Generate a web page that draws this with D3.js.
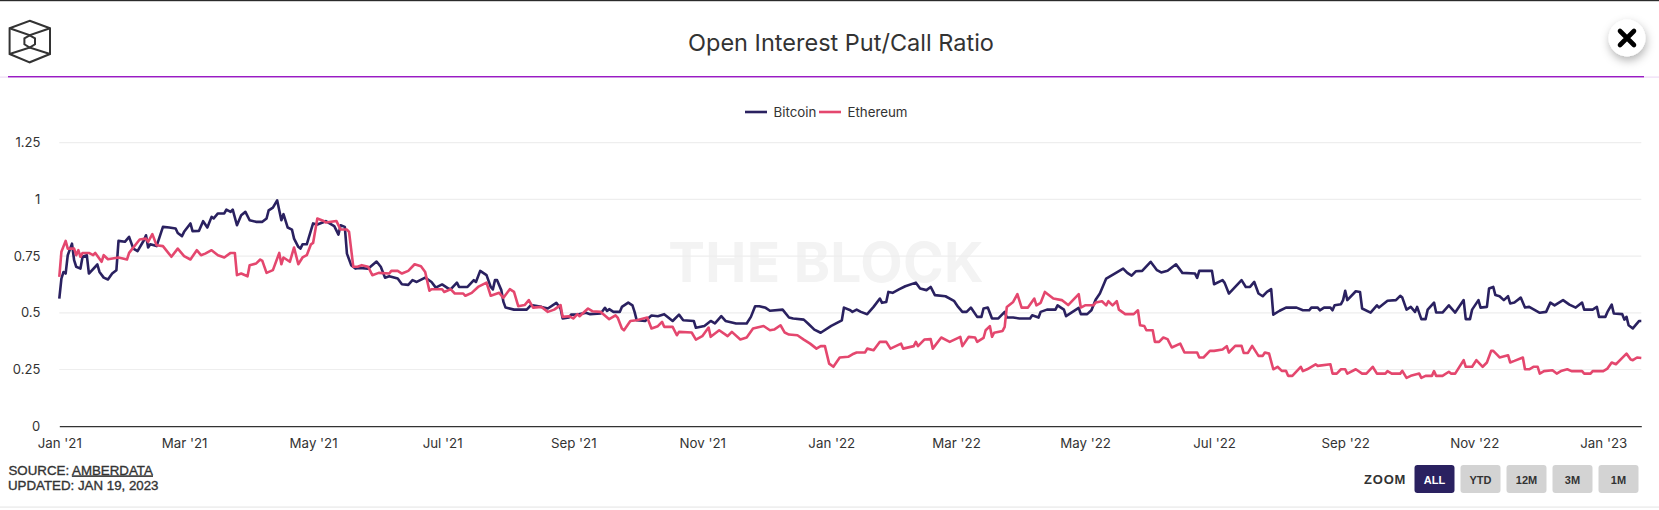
<!DOCTYPE html>
<html>
<head>
<meta charset="utf-8">
<title>Open Interest Put/Call Ratio</title>
<script src="https://cdn.jsdelivr.net/npm/d3@7"></script>
<style>
  html, body { margin: 0; padding: 0; background: #fff; overflow: hidden; }
  text { font-family: Inter, "Noto Sans", sans-serif; }
  .plain text, text.plain { font-family: "Liberation Sans", Arial, sans-serif; }
</style>
</head>
<body>
<svg id="chart" width="1659" height="510"></svg>
<script>
// days counted from Jan 1 2021
const startDate = Date.UTC(2021, 0, 1);

const btcDays = [0,1,2,3,4,6,7,8,10,11,13,14,18,19,21,23,25,27,28,31,33,35,37,40,41,42,43,46,49,52,55,56,58,59,62,63,66,68,70,72,73,75,78,79,81,82,84,86,88,90,93,96,98,99,101,103,105,106,108,110,111,113,114,115,117,120,122,126,130,132,133,135,136,138,140,142,146,150,152,154,156,160,162,165,167,169,173,176,178,181,184,185,188,189,193,196,197,199,202,204,205,206,207,209,210,211,215,221,223,228,231,235,237,238,241,242,245,249,251,256,258,259,260,262,265,266,269,271,272,273,277,280,283,286,290,293,295,300,301,305,308,310,313,315,320,325,327,329,331,334,336,342,345,347,352,354,357,360,365,370,371,374,375,377,379,382,385,388,389,391,392,394,397,400,405,407,410,412,414,419,423,425,427,429,431,434,436,437,439,441,444,447,448,451,454,459,460,463,464,467,471,472,475,476,482,483,486,488,490,492,495,503,505,507,509,512,516,519,521,524,528,531,537,538,539,541,545,546,550,551,553,559,561,563,565,567,569,571,573,574,577,580,585,588,591,592,595,596,598,601,602,603,606,607,608,609,613,615,616,620,623,624,628,632,634,635,637,639,641,642,644,646,647,650,651,654,657,660,664,665,667,668,671,672,675,676,678,679,681,683,685,686,688,691,693,695,700,703,705,707,711,714,717,720,721,725,727,728,731,732,734,735,739,740,741,742,744,747,748];
const btcValues = [.563,.651,.68,.673,.754,.805,.732,.703,.695,.747,.754,.673,.713,.68,.655,.647,.673,.688,.817,.813,.835,.783,.772,.82,.842,.788,.802,.794,.879,.876,.872,.852,.838,.857,.894,.86,.861,.904,.876,.923,.916,.938,.938,.955,.945,.955,.886,.93,.945,.908,.901,.901,.916,.952,.964,.996,.908,.935,.876,.867,.827,.791,.783,.802,.802,.894,.889,.904,.882,.845,.886,.879,.761,.71,.695,.698,.694,.726,.703,.655,.661,.651,.626,.623,.644,.636,.655,.636,.611,.625,.607,.603,.633,.614,.614,.644,.636,.685,.666,.614,.603,.644,.644,.6,.548,.523,.514,.514,.534,.526,.519,.544,.519,.475,.479,.492,.492,.5,.494,.497,.522,.508,.516,.504,.504,.526,.545,.533,.504,.467,.464,.488,.485,.494,.464,.492,.467,.464,.434,.442,.464,.453,.485,.464,.453,.453,.482,.529,.529,.522,.509,.514,.479,.475,.47,.453,.426,.412,.442,.467,.523,.511,.504,.514,.504,.494,.526,.563,.544,.548,.592,.588,.603,.617,.633,.607,.6,.614,.578,.573,.553,.526,.504,.504,.523,.482,.482,.519,.523,.475,.475,.504,.479,.479,.475,.475,.489,.479,.504,.514,.514,.533,.514,.485,.522,.494,.494,.511,.558,.585,.651,.695,.676,.664,.683,.685,.725,.688,.678,.685,.714,.676,.673,.654,.685,.685,.685,.626,.644,.632,.585,.644,.614,.614,.636,.585,.573,.592,.604,.492,.509,.523,.523,.511,.511,.523,.523,.511,.523,.523,.511,.533,.538,.556,.597,.556,.595,.592,.519,.501,.533,.523,.553,.556,.575,.567,.514,.526,.504,.526,.472,.472,.514,.545,.501,.501,.533,.501,.556,.472,.472,.514,.556,.523,.526,.607,.614,.578,.573,.556,.573,.541,.545,.567,.523,.526,.5,.504,.545,.533,.556,.536,.523,.545,.514,.514,.526,.482,.482,.504,.536,.497,.494,.47,.482,.445,.431,.464,.464];

const ethDays = [0,1,3,4,7,8,9,10,11,14,16,17,20,21,23,28,32,33,38,41,42,44,46,49,53,56,59,62,65,67,69,72,75,78,81,83,84,86,89,90,93,95,96,98,101,104,105,106,109,111,113,115,117,119,120,122,125,126,131,133,136,137,139,141,143,146,148,151,156,157,160,162,165,168,171,173,175,176,181,182,185,187,191,192,195,198,202,204,208,210,213,215,217,220,222,224,228,231,234,237,238,241,243,245,246,250,252,256,260,263,264,266,267,270,273,278,280,283,285,286,290,292,293,299,301,304,307,308,312,316,318,322,325,328,333,336,338,341,343,345,349,352,355,358,360,362,364,366,369,373,375,377,381,382,385,388,391,393,398,399,404,405,406,409,412,413,417,421,426,427,430,433,434,437,438,440,441,442,446,447,448,451,453,455,458,461,462,464,466,470,474,477,482,483,485,489,490,493,495,496,498,500,501,504,508,510,511,513,514,517,518,520,522,524,526,530,532,538,539,541,544,546,550,552,553,556,559,560,562,564,567,569,570,572,574,576,578,580,581,583,587,588,590,594,595,601,602,604,606,608,609,613,616,618,621,623,627,628,630,634,635,637,639,643,644,646,649,650,651,654,657,658,660,664,665,668,670,673,675,677,678,680,681,685,686,688,692,693,695,697,699,700,702,706,708,710,713,715,720,721,724,725,730,732,734,736,739,741,743,744,746,748];
const ethValues = [.658,.769,.817,.783,.783,.754,.776,.747,.764,.764,.754,.764,.725,.754,.736,.744,.735,.764,.823,.827,.813,.847,.798,.794,.747,.783,.75,.735,.776,.754,.761,.776,.754,.744,.764,.764,.666,.673,.661,.71,.717,.735,.729,.676,.688,.764,.714,.744,.725,.788,.714,.744,.754,.802,.808,.916,.905,.898,.905,.867,.867,.857,.703,.703,.71,.703,.666,.676,.673,.685,.685,.673,.685,.714,.705,.68,.597,.604,.604,.592,.604,.585,.585,.575,.588,.614,.633,.575,.588,.566,.604,.592,.529,.534,.556,.523,.526,.504,.514,.534,.482,.485,.475,.494,.485,.519,.507,.504,.472,.489,.479,.431,.423,.464,.467,.479,.431,.441,.46,.438,.438,.401,.416,.413,.382,.397,.435,.394,.423,.397,.416,.382,.391,.431,.442,.423,.426,.445,.413,.404,.401,.382,.364,.342,.353,.353,.276,.262,.303,.306,.317,.325,.325,.342,.335,.372,.372,.342,.364,.342,.353,.372,.353,.382,.384,.342,.391,.372,.394,.353,.394,.391,.372,.389,.423,.441,.394,.412,.42,.438,.526,.548,.582,.523,.523,.563,.533,.544,.592,.563,.556,.534,.582,.523,.533,.533,.545,.551,.533,.551,.533,.551,.514,.494,.494,.511,.445,.442,.423,.423,.372,.372,.391,.384,.347,.364,.325,.325,.303,.303,.332,.332,.338,.353,.325,.354,.354,.323,.323,.354,.31,.31,.325,.32,.251,.262,.244,.244,.222,.222,.262,.243,.251,.273,.266,.273,.232,.232,.251,.251,.232,.251,.232,.232,.262,.232,.232,.243,.232,.232,.244,.213,.222,.232,.213,.222,.222,.243,.222,.222,.24,.232,.232,.291,.262,.262,.291,.262,.281,.332,.332,.313,.303,.313,.281,.288,.303,.251,.251,.262,.262,.232,.243,.247,.232,.243,.251,.243,.243,.232,.232,.243,.243,.254,.281,.273,.301,.32,.294,.291,.303,.301];

const yTicks = [0, 0.25, 0.5, 0.75, 1, 1.25];
const zoomLabels = ["ALL", "YTD", "12M", "3M", "1M"];

const toDate = d => new Date(startDate + d * 86400000);
const btcData = btcDays.map((d, i) => [toDate(d), btcValues[i]]);
const ethData = ethDays.map((d, i) => [toDate(d), ethValues[i]]);

const navy = "#2a2160", pink = "#e4476e";

const svg = d3.select("#chart");

const defs = svg.append("defs");
const shadow = defs.append("filter").attr("id", "btnShadow")
    .attr("x", "-50%").attr("y", "-50%").attr("width", "200%").attr("height", "200%");
shadow.append("feDropShadow").attr("dx", 1).attr("dy", 4).attr("stdDeviation", 5)
    .attr("flood-color", "#000").attr("flood-opacity", 0.3);

// header
svg.append("rect").attr("width", 1659).attr("height", 1.2).attr("fill", "#2b2b2b");
svg.append("rect").attr("y", 76.5).attr("width", 1659).attr("height", 1.2).attr("fill", "#eedcf5");
svg.append("rect").attr("x", 8).attr("y", 76).attr("width", 1636).attr("height", 1.4).attr("fill", "#9a1cc4");

const logo = svg.append("g").attr("fill", "none").attr("stroke", "#333").attr("stroke-width", 2);
logo.append("path").attr("d", "M29.7,20.7L50,28.3V54L29.7,62.3L9.6,54V28.3Z");
logo.append("path").attr("d", "M29.7,35.3L35,38.3V44.3L29.7,47.5L24.4,44.3V38.3Z");
logo.append("path").attr("d", "M9.6,28.3L29.7,35.3L50,28.3M9.6,54L29.7,47.5L50,54");

svg.append("text").attr("x", 841).attr("y", 51).attr("text-anchor", "middle")
    .attr("font-size", 23.5).attr("fill", "#333").text("Open Interest Put/Call Ratio");

svg.append("circle").attr("cx", 1627).attr("cy", 38).attr("r", 18.5)
    .attr("fill", "#fff").attr("filter", "url(#btnShadow)");
svg.append("path").attr("d", "M1620,31L1634,45M1634,31L1620,45")
    .attr("stroke", "#000").attr("stroke-width", 4.6).attr("stroke-linecap", "round");

// legend
const legendItems = [
    { name: "Bitcoin", color: navy, x: 745 },
    { name: "Ethereum", color: pink, x: 819 }
];
const legend = svg.append("g").selectAll("g").data(legendItems).enter().append("g")
    .attr("transform", d => `translate(${d.x},112)`);
legend.append("line").attr("x2", 22).attr("stroke", d => d.color).attr("stroke-width", 2.6);
legend.append("text").attr("x", 28.5).attr("dy", "0.35em").attr("font-size", 13.3)
    .attr("fill", "#333").text(d => d.name);

// scales
const x = d3.scaleUtc().domain([toDate(0), toDate(748)]).range([59.3, 1641.3]);
const y = d3.scaleLinear().domain([0, 1.25]).range([426.2, 142.7]);

// watermark
svg.append("text").attr("x", 826).attr("y", 282).attr("text-anchor", "middle")
    .attr("font-size", 55).attr("font-weight", 700).attr("letter-spacing", 0.3)
    .attr("fill", "#f3f3f3").text("THE BLOCK");

// grid and axes
svg.append("g").selectAll("line").data(yTicks.filter(d => d > 0)).enter().append("line")
    .attr("x1", x.range()[0]).attr("x2", x.range()[1])
    .attr("y1", d => y(d)).attr("y2", d => y(d))
    .attr("stroke", "#eeeeee").attr("stroke-width", 1.2);

const yAxis = svg.append("g").attr("transform", "translate(59.3,0)")
    .call(d3.axisLeft(y).tickValues(yTicks).tickSize(0).tickPadding(19).tickFormat(d => d));
yAxis.select(".domain").remove();
yAxis.selectAll("text").attr("font-size", 13).attr("fill", "#333")
    .style("font-family", "Inter, 'Noto Sans', sans-serif");

const xAxis = svg.append("g").attr("transform", `translate(0,${y(0)})`)
    .call(d3.axisBottom(x).ticks(d3.utcMonth.every(2)).tickSize(0).tickPadding(12)
        .tickFormat(d3.utcFormat("%b '%y")));
xAxis.select(".domain").attr("stroke", "#333").attr("stroke-width", 1.2);
xAxis.selectAll("text").attr("font-size", 13.3).attr("fill", "#333")
    .style("font-family", "Inter, 'Noto Sans', sans-serif");

// lines
const line = d3.line().x(d => x(d[0])).y(d => y(d[1]));
svg.append("path").datum(btcData).attr("d", line).attr("fill", "none")
    .attr("stroke", navy).attr("stroke-width", 2.6).attr("stroke-linejoin", "round");
svg.append("path").datum(ethData).attr("d", line).attr("fill", "none")
    .attr("stroke", pink).attr("stroke-width", 2.6).attr("stroke-linejoin", "round");

// footer
const source = svg.append("text").attr("class", "plain").attr("x", 8.5).attr("y", 474.5)
    .attr("font-size", 13.3).attr("font-weight", 400).attr("fill", "#333")
    .attr("stroke", "#333").attr("stroke-width", 0.35);
source.append("tspan").text("SOURCE: ");
source.append("tspan").attr("text-decoration", "underline").text("AMBERDATA");
svg.append("text").attr("class", "plain").attr("x", 8).attr("y", 490)
    .attr("font-size", 13.3).attr("fill", "#333")
    .attr("stroke", "#333").attr("stroke-width", 0.35).text("UPDATED: JAN 19, 2023");

svg.append("text").attr("class", "plain").attr("x", 1364).attr("y", 484)
    .attr("font-size", 13).attr("font-weight", 700).attr("letter-spacing", 0.8)
    .attr("fill", "#333").text("ZOOM");

const buttons = svg.append("g").selectAll("g").data(zoomLabels).enter().append("g")
    .attr("transform", (d, i) => `translate(${1414.5 + i * 46},465)`);
buttons.append("rect").attr("width", 40).attr("height", 28).attr("rx", 3)
    .attr("fill", (d, i) => i === 0 ? navy : "#d3d3d3");
buttons.append("text").attr("class", "plain").attr("x", 20).attr("y", 18.5)
    .attr("text-anchor", "middle").attr("font-size", 11).attr("font-weight", 700)
    .attr("fill", (d, i) => i === 0 ? "#fff" : "#333").text(d => d);

svg.append("rect").attr("y", 506.5).attr("width", 1659).attr("height", 1.2).attr("fill", "#e8e8e8");
</script>
</body>
</html>
